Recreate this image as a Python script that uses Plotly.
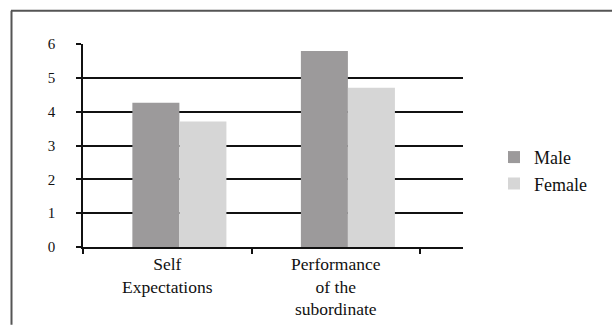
import plotly.graph_objects as go

# Survey means by dimension and gender
categories = ["Self<br>Expectations", "Performance<br>of the<br>subordinate"]
male = [4.26, 5.79]
female = [3.71, 4.71]
y_ticks = [0, 1, 2, 3, 4, 5, 6]

W, H = 612, 331
L, R, T, B = 83, 463, 44, 251.5   # plot area in pixels


def px_x(p):
    return (p - L) / (R - L)


def px_y(p):
    return (B - p) / (B - T)


bar_w = 0.279
male_off = -0.207

fig = go.Figure()
fig.add_trace(go.Bar(
    name="Male", x=categories, y=male,
    marker=dict(color="#9c9a9b", line=dict(width=0)),
    width=bar_w, offset=male_off,
))
fig.add_trace(go.Bar(
    name="Female", x=categories, y=female,
    marker=dict(color="#d6d6d6", line=dict(width=0)),
    width=bar_w, offset=male_off + bar_w,
))

font = "'Liberation Serif', 'Times New Roman', 'DejaVu Serif', serif"

fig.update_layout(
    width=W, height=H,
    margin=dict(l=L, r=W - R, t=T, b=H - B),
    paper_bgcolor="white", plot_bgcolor="white",
    barmode="overlay",
    font=dict(family=font, size=17, color="#111"),
    showlegend=True,
    legend=dict(
        x=px_x(494), y=px_y(141), xanchor="left", yanchor="top",
        font=dict(family=font, size=18, color="#111"),
        bgcolor="rgba(0,0,0,0)", borderwidth=0,
        tracegroupgap=0,
    ),
    xaxis=dict(
        type="category",
        range=[-0.5, 1.755],
        tickson="boundaries",
        ticks="outside", ticklen=5, tickwidth=1.5, tickcolor="#111",
        showline=True, linecolor="#111", linewidth=1.5,
        showgrid=False, zeroline=False,
        tickfont=dict(family=font, size=17.5, color="#111"),
        fixedrange=True,
    ),
    yaxis=dict(
        range=[0, 6],
        tickvals=y_ticks,
        ticks="outside", ticklen=5, tickwidth=1.5, tickcolor="#111",
        ticklabelstandoff=18,
        showline=True, linecolor="#111", linewidth=1.5,
        showgrid=True, gridcolor="#111", gridwidth=1.5,
        zeroline=False,
        tickfont=dict(family=font, size=15, color="#111"),
        fixedrange=True,
    ),
    shapes=[
        # outer frame: top and left edges
        dict(type="line", xref="paper", yref="paper",
             x0=px_x(11), x1=px_x(612), y0=px_y(10), y1=px_y(10),
             line=dict(color="#555", width=2)),
        dict(type="line", xref="paper", yref="paper",
             x0=px_x(11.5), x1=px_x(11.5), y0=px_y(10), y1=px_y(331),
             line=dict(color="#555", width=2)),
    ],
)

fig.write_html("out.html")
